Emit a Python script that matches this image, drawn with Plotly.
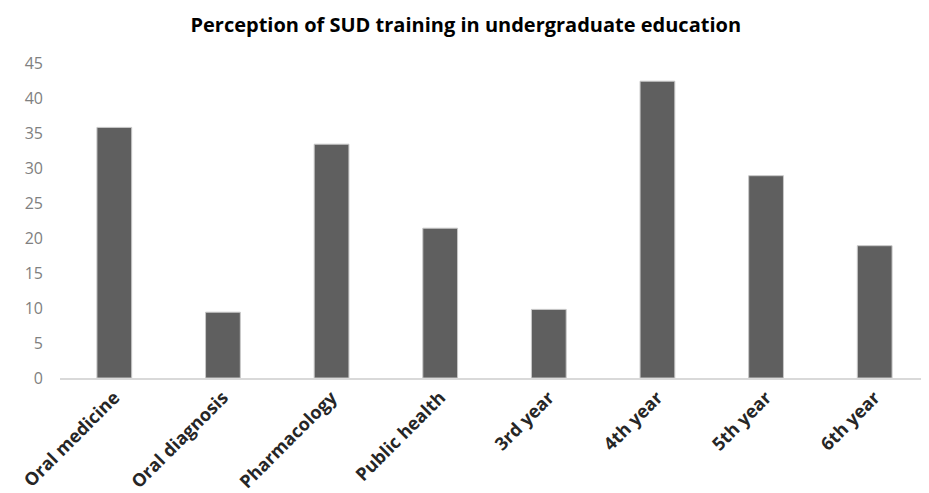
import plotly.graph_objects as go

categories = ['Oral medicine', 'Oral diagnosis', 'Pharmacology', 'Public health',
              '3rd year', '4th year', '5th year', '6th year']
values = [35.8, 9.4, 33.4, 21.4, 9.8, 42.4, 28.9, 18.9]
y_ticks = [0, 5, 10, 15, 20, 25, 30, 35, 40, 45]

fig = go.Figure()
fig.add_trace(go.Bar(
    x=categories,
    y=values,
    marker=dict(color='#5f5f5f', line=dict(color='#c8c8c8', width=1)),
))

# page body has an 8px margin, so the figure is sized/offset to compensate
fig.update_layout(
    width=921, height=485,
    margin=dict(l=52, r=0, t=55, b=115),
    plot_bgcolor='white', paper_bgcolor='white',
    bargap=0.68,
    showlegend=False,
    font=dict(family='Open Sans', color='#595959'),
    title=dict(
        text='<b>Perception of SUD training in undergraduate education</b>',
        x=0.497, xanchor='center', y=0.965, yanchor='middle',
        font=dict(family='Open Sans', size=20, color='black'),
    ),
)
fig.update_xaxes(
    showline=True, linecolor='#d9d9d9', linewidth=2,
    tickangle=-45, ticks='', automargin=False,
    tickfont=dict(family='Open Sans', size=18, color='#262626', weight='bold'),
)
fig.update_yaxes(
    range=[0, 45], tickvals=y_ticks, showgrid=False, zeroline=False,
    showline=False, ticks='', ticklabelstandoff=16,
    tickfont=dict(family='Open Sans', size=16, color='#808080'),
)

fig.write_html("out.html")
